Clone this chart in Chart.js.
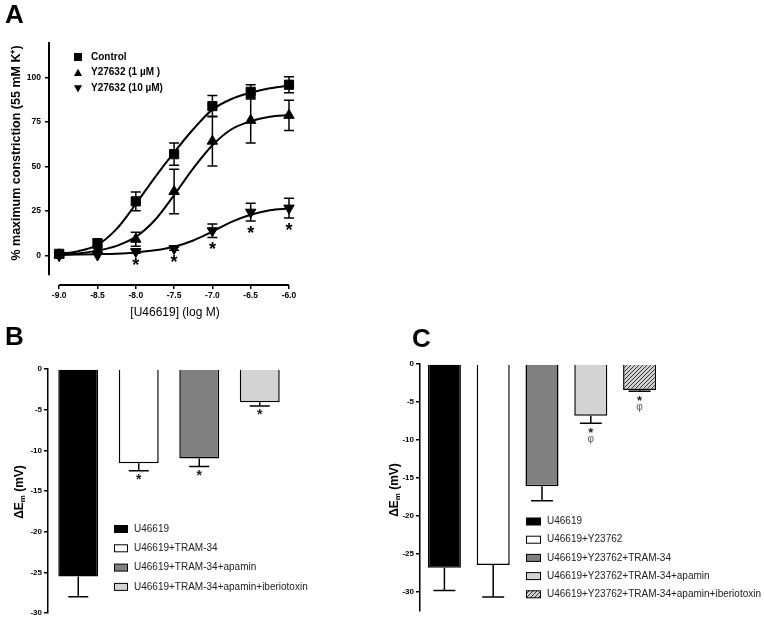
<!DOCTYPE html>
<html>
<head>
<meta charset="utf-8">
<script src="https://cdn.jsdelivr.net/npm/chart.js@4.4.1/dist/chart.umd.min.js"></script>
<style>
  body { margin: 0; background: #fff; }
  #page { position: relative; width: 764px; height: 620px; overflow: hidden; font-family: "Liberation Sans", Arial, sans-serif; }
  canvas { position: absolute; }
  .letter { position: absolute; font-weight: bold; font-size: 26px; line-height: 26px; color: #000; }
</style>
</head>
<body>
<div id="page">
  <canvas id="chartA" width="380" height="320" style="left:0px;top:0px"></canvas>
  <canvas id="chartB" width="380" height="300" style="left:0px;top:320px"></canvas>
  <canvas id="chartC" width="384" height="300" style="left:380px;top:320px"></canvas>
  <div class="letter" style="left:5px;top:1px">A</div>
  <div class="letter" style="left:5px;top:323px">B</div>
  <div class="letter" style="left:412px;top:325px">C</div>
</div>
<script>
const FONT = '"Liberation Sans", Arial, Helvetica, sans-serif';
Chart.defaults.font.family = FONT;
Chart.defaults.color = '#000';

// ---- panel A data ----
const doseTicks = [-9.0, -8.5, -8.0, -7.5, -7.0, -6.5, -6.0];
const controlMean = [1, 7, 30.5, 57, 84, 92, 96];
const controlSem = [1, 2, 5.3, 6.2, 6, 4, 4.5];
const y1Mean = [0.5, 3, 9.2, 36, 64.3, 76, 78.8];
const y1Sem = [0.5, 1, 4, 12.5, 14, 12.7, 8.5];
const y10Mean = [0, 0.3, 2.3, 4, 14, 24.4, 26.7];
const y10Sem = [0, 0, 1, 1, 3.8, 5, 5.6];
const y10Star = [false, false, true, true, true, true, true];
const fitDose = [-9.0, -8.75, -8.5, -8.25, -8.0, -7.75, -7.5, -7.25, -7.0, -6.75, -6.5, -6.25, -6.0];
const controlFit = [1, 2.5, 6, 15, 29, 44, 58, 71, 82, 88, 91.5, 94, 95.5];
const y1Fit = [0.5, 1.2, 2.8, 5.5, 10.5, 20, 34, 49, 62, 71, 75.5, 78, 79];
const y10Fit = [0.5, 0.6, 0.8, 1.1, 1.8, 3, 5, 8.5, 13.5, 19, 23, 25.5, 26.5];
const yTicksA = [0, 25, 50, 75, 100];
const seriesA = ['Control', 'Y27632 (1 µM )', 'Y27632 (10 µM)'];

// ---- panel B data ----
const labelsB = ['U46619', 'U46619+TRAM-34', 'U46619+TRAM-34+apamin', 'U46619+TRAM-34+apamin+iberiotoxin'];
const meanB = [-25.5, -11.6, -11.0, -4.1];
const semB = [2.5, 0.9, 1.0, 0.45];
const starB = [false, true, true, true];

// ---- panel C data ----
const labelsC = ['U46619', 'U46619+Y23762', 'U46619+Y23762+TRAM-34', 'U46619+Y23762+TRAM-34+apamin', 'U46619+Y23762+TRAM-34+apamin+iberiotoxin'];
const meanC = [-26.8, -26.45, -16.1, -6.8, -3.42];
const semC = [3.0, 4.2, 1.9, 1.0, 0.15];
const starC = [false, false, false, true, true];
const phiC = [false, false, false, true, true];

const yTicksBC = [0, -5, -10, -15, -20, -25, -30];

function pts(xs, ys) {
    return xs.map((x, i) => ({ x: x, y: ys[i] }));
}

// draws text with its glyph centred on (x, y)
function drawMark(ctx, text, x, y, font, color) {
    ctx.save();
    ctx.font = font;
    ctx.fillStyle = color;
    ctx.textAlign = 'center';
    ctx.textBaseline = 'alphabetic';
    const m = ctx.measureText(text);
    ctx.fillText(text, x, y + (m.actualBoundingBoxAscent - m.actualBoundingBoxDescent) / 2);
    ctx.restore();
}

// rotated y title, parts = [text, font, shift]
function drawVTitle(ctx, parts, x, y) {
    ctx.save();
    ctx.translate(x, y);
    ctx.rotate(-Math.PI / 2);
    ctx.fillStyle = '#000';
    ctx.textBaseline = 'middle';
    ctx.textAlign = 'left';
    let w = 0;
    parts.forEach(p => { ctx.font = p[1]; w += ctx.measureText(p[0]).width; });
    let cx = -w / 2;
    parts.forEach(p => {
        ctx.font = p[1];
        ctx.fillText(p[0], cx, p[2]);
        cx += ctx.measureText(p[0]).width;
    });
    ctx.restore();
}

function marker(ctx, style, x, y, r) {
    ctx.beginPath();
    if (style === 'rect') {
        ctx.rect(x - r, y - r, 2 * r, 2 * r);
    } else if (style === 'up') {
        ctx.moveTo(x, y - r);
        ctx.lineTo(x + r, y + r * 0.8);
        ctx.lineTo(x - r, y + r * 0.8);
    } else {
        ctx.moveTo(x, y + r);
        ctx.lineTo(x + r, y - r * 0.8);
        ctx.lineTo(x - r, y - r * 0.8);
    }
    ctx.closePath();
    ctx.fill();
}

const panelAPlugin = {
    id: 'panelA',
    beforeDatasetsDraw(chart) {
        const ctx = chart.ctx, xs = chart.scales.x, ys = chart.scales.y;
        ctx.save();
        ctx.strokeStyle = '#000';
        ctx.lineWidth = 1.5;
        [[controlMean, controlSem], [y1Mean, y1Sem], [y10Mean, y10Sem]].forEach(s => {
            s[0].forEach((m, i) => {
                const e = s[1][i];
                if (!e) return;
                const x = xs.getPixelForValue(doseTicks[i]);
                const t = ys.getPixelForValue(m + e), b = ys.getPixelForValue(m - e);
                ctx.beginPath();
                ctx.moveTo(x, t); ctx.lineTo(x, b);
                ctx.moveTo(x - 5, t); ctx.lineTo(x + 5, t);
                ctx.moveTo(x - 5, b); ctx.lineTo(x + 5, b);
                ctx.stroke();
            });
        });
        ctx.restore();
    },
    afterDraw(chart) {
        const ctx = chart.ctx, xs = chart.scales.x, ys = chart.scales.y, area = chart.chartArea;
        ctx.save();
        ctx.strokeStyle = '#000';
        ctx.lineWidth = 2;
        ctx.beginPath();
        ctx.moveTo(area.left, ys.getPixelForValue(-11));
        ctx.lineTo(area.left, area.top);
        ctx.moveTo(xs.getPixelForValue(doseTicks[0]), area.bottom);
        ctx.lineTo(xs.getPixelForValue(doseTicks[doseTicks.length - 1]), area.bottom);
        ctx.stroke();

        y10Mean.forEach((m, i) => {
            if (!y10Star[i]) return;
            const x = xs.getPixelForValue(doseTicks[i]);
            const y = ys.getPixelForValue(m - y10Sem[i]) + 8;
            drawMark(ctx, '*', x, y, 'bold 18px ' + FONT, '#000');
        });

        // legend
        const styles = ['rect', 'up', 'down'];
        ctx.fillStyle = '#000';
        seriesA.forEach((name, i) => {
            const y = 57 + i * 15.7;
            marker(ctx, styles[i], 78, y, 4);
            ctx.font = 'bold 10px ' + FONT;
            ctx.textBaseline = 'middle';
            ctx.textAlign = 'left';
            ctx.fillText(name, 91, y);
        });

        drawVTitle(ctx, [['% maximum constriction (55 mM K⁺)', 'bold 12.5px ' + FONT, 0]], 17, 153);
        ctx.font = '12px ' + FONT;
        ctx.textAlign = 'center';
        ctx.textBaseline = 'middle';
        ctx.fillStyle = '#000';
        ctx.fillText('[U46619] (log M)', 175, 313);
        ctx.restore();
    }
};

new Chart(document.getElementById('chartA'), {
    type: 'scatter',
    data: {
        datasets: [
            { data: pts(doseTicks, controlMean), pointStyle: 'rect', pointRadius: 6.5, backgroundColor: '#000', borderColor: '#000', clip: false },
            { data: pts(doseTicks, y1Mean), pointStyle: 'triangle', pointRadius: 6, backgroundColor: '#000', borderColor: '#000', clip: false },
            { data: pts(doseTicks, y10Mean), pointStyle: 'triangle', pointRotation: 180, pointRadius: 6, backgroundColor: '#000', borderColor: '#000', clip: false },
            { data: pts(fitDose, controlFit), showLine: true, pointRadius: 0, borderColor: '#000', borderWidth: 2, cubicInterpolationMode: 'monotone', clip: false },
            { data: pts(fitDose, y1Fit), showLine: true, pointRadius: 0, borderColor: '#000', borderWidth: 2, cubicInterpolationMode: 'monotone', clip: false },
            { data: pts(fitDose, y10Fit), showLine: true, pointRadius: 0, borderColor: '#000', borderWidth: 2, cubicInterpolationMode: 'monotone', clip: false }
        ]
    },
    options: {
        responsive: false,
        animation: false,
        events: [],
        layout: { padding: { left: 0, top: 42, right: 91, bottom: 0 } },
        plugins: { legend: { display: false }, tooltip: { enabled: false } },
        scales: {
            x: {
                type: 'linear',
                min: -9.133,
                max: -6.0,
                afterBuildTicks: s => { s.ticks = doseTicks.map(v => ({ value: v })); },
                afterFit: s => { s.height = 35; },
                border: { display: false },
                grid: { drawOnChartArea: false, tickLength: 4, color: '#000', lineWidth: 1.5 },
                ticks: { padding: 2, autoSkip: false, maxRotation: 0, font: { size: 8.5, weight: 'bold' }, callback: v => v.toFixed(1) }
            },
            y: {
                min: -16.5,
                max: 120,
                afterBuildTicks: s => { s.ticks = yTicksA.map(v => ({ value: v })); },
                afterFit: s => { s.width = 49; },
                border: { display: false },
                grid: { drawOnChartArea: false, tickLength: 4, color: '#000', lineWidth: 1.5 },
                ticks: { padding: 4, font: { size: 8.5, weight: 'bold' } }
            }
        }
    },
    plugins: [panelAPlugin]
});

// ---- bar panels ----
const barExtras = {
    id: 'barExtras',
    beforeDatasetsDraw(chart, args, o) {
        const ctx = chart.ctx, ys = chart.scales.y;
        const bars = chart.getDatasetMeta(0).data;
        ctx.save();
        ctx.strokeStyle = '#000';
        ctx.lineWidth = 1.5;
        o.mean.forEach((m, i) => {
            const x = bars[i].x;
            const y0 = ys.getPixelForValue(m), y1 = ys.getPixelForValue(m - o.sem[i]);
            ctx.beginPath();
            ctx.moveTo(x, y0); ctx.lineTo(x, y1);
            ctx.moveTo(x - o.cap / 2, y1); ctx.lineTo(x + o.cap / 2, y1);
            ctx.stroke();
        });
        ctx.restore();
    },
    afterDraw(chart, args, o) {
        const ctx = chart.ctx, ys = chart.scales.y;
        const bars = chart.getDatasetMeta(0).data;
        const colors = chart.data.datasets[0].backgroundColor;
        ctx.save();
        o.mean.forEach((m, i) => {
            const x = bars[i].x;
            const y1 = ys.getPixelForValue(m - o.sem[i]);
            if (o.star[i]) drawMark(ctx, '*', x, y1 + o.starGap, o.starFont, '#222');
            if (o.phi && o.phi[i]) drawMark(ctx, 'φ', x, y1 + o.phiGap, '10px ' + FONT, '#555');
        });
        chart.data.labels.forEach((name, i) => {
            const y = o.legendY + i * o.legendStep;
            ctx.fillStyle = colors[i];
            ctx.fillRect(o.legendX, y - 3.5, o.boxW, 7);
            ctx.strokeStyle = '#000';
            ctx.lineWidth = 1;
            ctx.strokeRect(o.legendX + 0.5, y - 3.5, o.boxW - 1, 7);
            ctx.fillStyle = '#222';
            ctx.font = '10px ' + FONT;
            ctx.textAlign = 'left';
            ctx.textBaseline = 'middle';
            ctx.fillText(name, o.textX, y);
        });
        drawVTitle(ctx, [['ΔE', 'bold 12px ' + FONT, 0], ['m', 'bold 8px ' + FONT, 3], [' (mV)', 'bold 12px ' + FONT, 0]], o.titleX, o.titleY);
        ctx.restore();
    }
};

function barY(min, width, pad) {
    return {
        min: min,
        max: 0,
        afterBuildTicks: s => { s.ticks = yTicksBC.map(v => ({ value: v })); },
        afterFit: s => { s.width = width; },
        border: { display: true, color: '#000', width: 1.5 },
        grid: { drawOnChartArea: false, tickLength: 4, color: '#000', lineWidth: 1.5 },
        ticks: { padding: pad, font: { size: 8, weight: 'bold' } }
    };
}

new Chart(document.getElementById('chartB'), {
    type: 'bar',
    data: {
        labels: labelsB,
        datasets: [{
            data: meanB,
            backgroundColor: ['#000000', '#ffffff', '#808080', '#d3d3d3'],
            borderColor: '#000',
            borderWidth: 1.5,
            barPercentage: 0.66,
            categoryPercentage: 1.0
        }]
    },
    options: {
        responsive: false,
        animation: false,
        events: [],
        layout: { padding: { left: 0, top: 49, right: 90, bottom: 7 } },
        plugins: {
            legend: { display: false },
            tooltip: { enabled: false },
            barExtras: {
                mean: meanB, sem: semB, star: starB, cap: 20,
                starGap: 6, starFont: 'bold 14px ' + FONT,
                legendX: 114, legendY: 209, legendStep: 19.3, boxW: 14, textX: 134,
                titleX: 20, titleY: 172
            }
        },
        scales: { x: { display: false }, y: barY(-30, 48, 2) }
    },
    plugins: [barExtras]
});

const ctxC = document.getElementById('chartC').getContext('2d');
function hatch(ctx) {
    const t = document.createElement('canvas');
    t.width = 4; t.height = 4;
    const g = t.getContext('2d');
    g.fillStyle = '#d0d0d0';
    g.fillRect(0, 0, 4, 4);
    g.strokeStyle = '#3a3a3a';
    g.lineWidth = 1;
    g.beginPath();
    g.moveTo(0, 4); g.lineTo(4, 0);
    g.moveTo(-1, 1); g.lineTo(1, -1);
    g.moveTo(3, 5); g.lineTo(5, 3);
    g.stroke();
    return ctx.createPattern(t, 'repeat');
}

new Chart(ctxC, {
    type: 'bar',
    data: {
        labels: labelsC,
        datasets: [{
            data: meanC,
            backgroundColor: ['#000000', '#ffffff', '#808080', '#d3d3d3', hatch(ctxC)],
            borderColor: '#000',
            borderWidth: 1.5,
            barPercentage: 0.677,
            categoryPercentage: 1.0
        }]
    },
    options: {
        responsive: false,
        animation: false,
        events: [],
        layout: { padding: { left: 0, top: 44, right: 100, bottom: 9 } },
        plugins: {
            legend: { display: false },
            tooltip: { enabled: false },
            barExtras: {
                mean: meanC, sem: semC, star: starC, phi: phiC, cap: 22,
                starGap: 7, phiGap: 16.5, starFont: 'bold 13px ' + FONT,
                legendX: 146, legendY: 201.5, legendStep: 18.2, boxW: 15, textX: 167,
                titleX: 15, titleY: 170
            }
        },
        scales: { x: { display: false }, y: barY(-32.5, 40, 2) }
    },
    plugins: [barExtras]
});
</script>
</body>
</html>
